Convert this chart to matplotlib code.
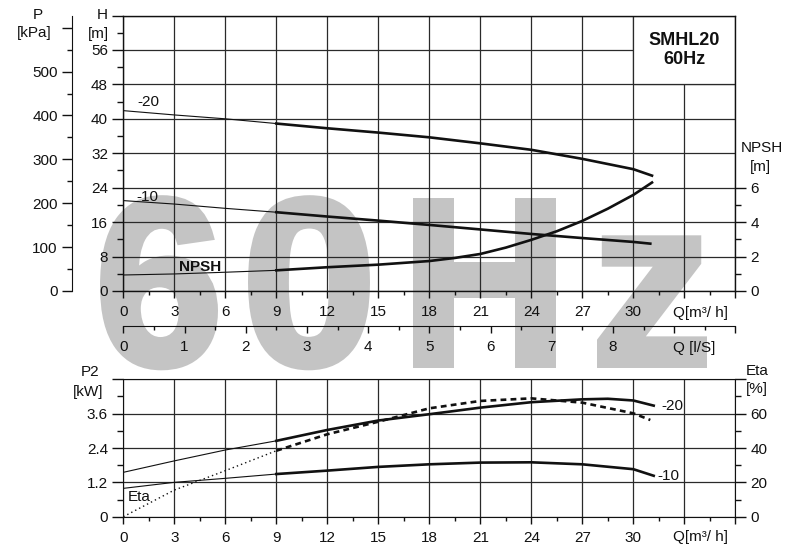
import numpy as np
import matplotlib
matplotlib.use("Agg")
import matplotlib.pyplot as plt
from matplotlib.patches import Rectangle, PathPatch
from matplotlib.textpath import TextPath
from matplotlib.transforms import Affine2D
from matplotlib import font_manager

plt.rcParams['font.family'] = ['Liberation Sans', 'DejaVu Sans']

# --- pump curve data ---
# head curves [m] vs Q [m3/h]
q_h20 = [0, 3, 6, 9, 12, 15, 18, 21, 24, 27, 30, 31.1]
h_20 = [41.9, 40.9, 40.0, 38.9, 37.8, 36.8, 35.7, 34.3, 32.8, 30.7, 28.3, 26.8]
q_h10 = [0, 3, 6, 9, 12, 15, 18, 21, 24, 27, 30, 31.0]
h_10 = [21.0, 20.2, 19.2, 18.3, 17.3, 16.35, 15.35, 14.3, 13.25, 12.3, 11.4, 11.0]
# NPSH [m]
q_npsh = [0, 3, 6, 9, 12, 15, 18, 19.5, 21, 22.5, 24, 25.5, 27, 28.5, 30, 31.1]
npsh = [0.93, 0.99, 1.09, 1.20, 1.38, 1.53, 1.74, 1.92, 2.15, 2.52, 2.97, 3.47,
        4.07, 4.78, 5.58, 6.30]
# shaft power P2 [kW]
q_p20 = [0, 3, 6, 9, 12, 15, 18, 21, 24, 27, 28.5, 30, 31.2]
p2_20 = [1.55, 1.95, 2.33, 2.65, 3.03, 3.36, 3.58, 3.81, 4.00, 4.10, 4.12, 4.06, 3.88]
q_p10 = [0, 3, 6, 9, 12, 15, 18, 21, 24, 27, 30, 31.2]
p2_10 = [0.99, 1.20, 1.34, 1.49, 1.61, 1.74, 1.83, 1.89, 1.90, 1.83, 1.66, 1.43]
# efficiency [%]
q_eta = [0, 3, 6, 9, 12, 15, 18, 21, 24, 27, 30, 31.0]
eta = [0, 15.5, 26.8, 38.4, 48.0, 55.3, 63.1, 67.4, 68.9, 66.4, 60.2, 56.3]

q_ticks = list(range(0, 37, 3))
q_labels = [str(v) if v <= 30 else '' for v in q_ticks]
h_ticks = list(range(0, 65, 8))
h_labels = [str(v) if v <= 56 else '' for v in h_ticks]
p_ticks = list(range(0, 601, 100))
p_labels = [str(v) if v <= 500 else '' for v in p_ticks]
npsh_ticks = [0, 2, 4, 6]
ls_ticks = list(range(0, 11))
ls_labels = [str(v) if v <= 8 else '' for v in ls_ticks]
p2_ticks = [0, 1.2, 2.4, 3.6, 4.8]
p2_labels = ['0', '1.2', '2.4', '3.6', '']
eta_ticks = [0, 20, 40, 60, 80]
eta_labels = ['0', '20', '40', '60', '']

# watermark glyphs and the pixel span (left, right) each one covers
wm_chars = ['6', '0', 'H', 'z']
wm_left = [100, 248, 413, 597]
wm_right = [218, 370, 556, 707]

W, H = 798, 556
INK = '#111111'
GRID = '#2a2a2a'
WM = '#c4c4c4'
FS = 11
SPLIT = 9  # curves are drawn thin below this flow
EXTRA = 8  # px of extra stroke weight for the watermark


def fx(px):
    return px / W


def fy(py):
    return 1 - py / H


def style_ticks(a, axis, major_len, minor_len):
    a.tick_params(axis=axis, which='major', direction='out', length=major_len,
                  width=1, colors=INK, labelsize=FS, pad=3)
    a.tick_params(axis=axis, which='minor', direction='out', length=minor_len,
                  width=1, colors=INK)


def two_part(a, q, v, thin=0.8, thick=1.9, dashed=False):
    q = np.asarray(q, dtype=float)
    v = np.asarray(v, dtype=float)
    lo = q <= SPLIT
    hi = q >= SPLIT
    if dashed:
        a.plot(q[lo], v[lo], color=INK, lw=1.0, ls=(0, (1, 2.2)), zorder=3)
        a.plot(q[hi], v[hi], color=INK, lw=thick, ls=(0, (2.2, 1.6)), zorder=3)
    else:
        a.plot(q[lo], v[lo], color=INK, lw=thin, zorder=3)
        a.plot(q[hi], v[hi], color=INK, lw=thick, zorder=3)


fig = plt.figure(figsize=(W / 100, H / 100), dpi=100)

# big watermark behind everything; outline stroked a little for the heavy weight
bold = font_manager.FontProperties(family='Liberation Sans', weight='bold')
half = EXTRA / 2
for ch, left, right in zip(wm_chars, wm_left, wm_right):
    tp = TextPath((0, 0), ch, size=(177 - EXTRA) / 0.716, prop=bold)
    ext = tp.get_extents()
    sx = (right - left - EXTRA) / ext.width
    tr = Affine2D().translate(-ext.x0, 0).scale(sx, 1).translate(left + half, H - 368 + half)
    fig.add_artist(PathPatch(tp, transform=tr, facecolor=WM, edgecolor=WM,
                             lw=EXTRA * 0.72, joinstyle='miter', zorder=-1))

# ---------------- upper chart: H / NPSH ----------------
ax = fig.add_axes([fx(123.3), fy(291), 612 / W, 275.5 / H])
ax.set_facecolor('none')
ax.set_xlim(0, 36)
ax.set_ylim(0, 64)
ax.set_xticks(q_ticks)
ax.set_xticklabels(q_labels)
ax.set_xticks(np.arange(1.5, 36, 3), minor=True)
ax.set_yticks(h_ticks)
ax.set_yticklabels(h_labels)
ax.set_yticks(np.arange(4, 64, 8), minor=True)
ax.grid(True, which='major', color=GRID, lw=0.9)
ax.set_axisbelow(True)
style_ticks(ax, 'y', 8, 4)
style_ticks(ax, 'x', 5, 3)
ax.tick_params(axis='x', pad=5)
for s in ax.spines.values():
    s.set_color(INK)
    s.set_linewidth(1.0)

# title box in the top-right corner
ax.add_patch(Rectangle((30, 48), 6, 16, facecolor='white', edgecolor=GRID, lw=0.9, zorder=1))
ax.text(33, 56, 'SMHL20\n60Hz', ha='center', va='center', fontsize=13,
        fontweight='bold', color=INK, linespacing=1.15, zorder=4)

two_part(ax, q_h20, h_20)
two_part(ax, q_h10, h_10)

ax.text(0.82, 43.8, '-20', fontsize=FS, color=INK, va='center', ha='left')
ax.text(0.79, 21.9, '-10', fontsize=FS, color=INK, va='center', ha='left')
ax.text(4.5, 5.5, 'NPSH', fontsize=FS, fontweight='bold', color=INK,
        va='center', ha='center')

# NPSH scale on the right
ax_n = ax.twinx()
ax_n.set_ylim(0, 16)
ax_n.set_yticks(npsh_ticks)
ax_n.set_yticks([1, 3, 5], minor=True)
style_ticks(ax_n, 'y', 8, 4)
for s in ax_n.spines.values():
    s.set_visible(False)
two_part(ax_n, q_npsh, npsh)

# P [kPa] scale further left
ax_p = ax.twinx()
ax_p.set_ylim(0, 64 * 9.81)
ax_p.yaxis.set_ticks_position('left')
ax_p.spines['left'].set_position(('axes', -0.0843))
for side in ['right', 'top', 'bottom']:
    ax_p.spines[side].set_visible(False)
ax_p.spines['left'].set_color(INK)
ax_p.set_yticks(p_ticks)
ax_p.set_yticklabels(p_labels)
ax_p.set_yticks(np.arange(50, 628, 100), minor=True)
style_ticks(ax_p, 'y', 7, 3.5)

# Q [l/s] scale below
ax_l = ax.twiny()
ax_l.set_xlim(0, 10)
ax_l.xaxis.set_ticks_position('bottom')
ax_l.spines['bottom'].set_position(('axes', -0.127))
for side in ['right', 'top', 'left']:
    ax_l.spines[side].set_visible(False)
ax_l.spines['bottom'].set_color(INK)
ax_l.set_xticks(ls_ticks)
ax_l.set_xticklabels(ls_labels)
ax_l.set_xticks(np.arange(0.5, 10, 1), minor=True)
style_ticks(ax_l, 'x', 5, 3)
ax_l.tick_params(axis='x', pad=5)

# ---------------- lower chart: P2 / Eta ----------------
ax_b = fig.add_axes([fx(123.3), fy(516.7), 612 / W, 137.4 / H])
ax_b.set_facecolor('none')
ax_b.set_xlim(0, 36)
ax_b.set_ylim(0, 4.8)
ax_b.set_xticks(q_ticks)
ax_b.set_xticklabels(q_labels)
ax_b.set_xticks(np.arange(1.5, 36, 3), minor=True)
ax_b.set_yticks(p2_ticks)
ax_b.set_yticklabels(p2_labels)
ax_b.set_yticks(np.arange(0.6, 4.8, 1.2), minor=True)
ax_b.grid(True, which='major', color=GRID, lw=0.9)
ax_b.set_axisbelow(True)
style_ticks(ax_b, 'y', 8, 4)
style_ticks(ax_b, 'x', 5, 3)
ax_b.tick_params(axis='x', pad=5)
for s in ax_b.spines.values():
    s.set_color(INK)

two_part(ax_b, q_p20, p2_20)
two_part(ax_b, q_p10, p2_10)
ax_b.text(31.67, 3.87, '-20', fontsize=FS, color=INK, va='center', ha='left')
ax_b.text(31.4, 1.42, '-10', fontsize=FS, color=INK, va='center', ha='left')
ax_b.text(0.29, 0.68, 'Eta', fontsize=FS, color=INK, va='center', ha='left')

ax_e = ax_b.twinx()
ax_e.set_ylim(0, 80)
ax_e.set_yticks(eta_ticks)
ax_e.set_yticklabels(eta_labels)
ax_e.set_yticks([10, 30, 50, 70], minor=True)
style_ticks(ax_e, 'y', 8, 4)
for s in ax_e.spines.values():
    s.set_visible(False)
two_part(ax_e, q_eta, eta, dashed=True)

# axis captions
cap = dict(fontsize=FS, color=INK, ha='center', va='center', linespacing=1.1)
fig.text(fx(38), fy(15), 'P', **cap)
fig.text(fx(34), fy(33), '[kPa]', **cap)
fig.text(fx(102), fy(15), 'H', **cap)
fig.text(fx(98), fy(34), '[m]', **cap)
fig.text(fx(762), fy(148), 'NPSH', **cap)
fig.text(fx(760), fy(167), '[m]', **cap)
fig.text(fx(90), fy(372), 'P2', **cap)
fig.text(fx(88), fy(392), '[kW]', **cap)
fig.text(fx(757), fy(371), 'Eta', **cap)
fig.text(fx(757), fy(389), '[%]', **cap)
fig.text(fx(673), fy(313), 'Q[m³/ h]', fontsize=FS, color=INK, ha='left', va='center')
fig.text(fx(673), fy(348), 'Q [l/S]', fontsize=FS, color=INK, ha='left', va='center')
fig.text(fx(673), fy(537), 'Q[m³/ h]', fontsize=FS, color=INK, ha='left', va='center')

fig.savefig('out.png', dpi=100)
